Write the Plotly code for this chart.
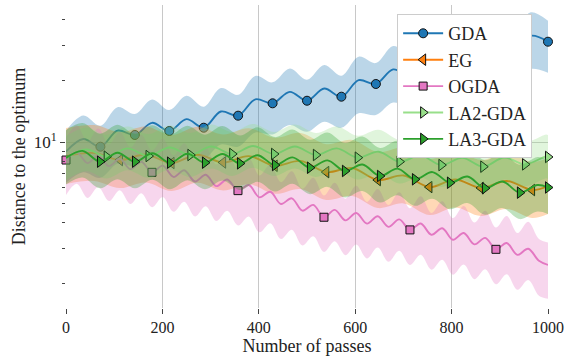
import plotly.graph_objects as go

# ---------------- data ----------------
gda_x = [0, 35.7, 71.4, 107.1, 142.9, 178.6, 214.3, 250.0, 285.7, 321.4, 357.1, 392.9, 428.6, 464.3,
         500.0, 535.7, 571.4, 607.1, 642.9, 678.6, 714.3, 750.0, 785.7, 821.4, 857.1, 892.9, 928.6,
         964.3, 1000]
gda_mean = [8.96, 10.34, 9.48, 11.38, 10.83, 12.43, 11.33, 12.96, 11.76, 14.13, 13.48, 16.23, 15.51,
            17.66, 15.97, 18.34, 16.72, 20.17, 19.31, 22.78, 21.33, 25.11, 23.47, 27.60, 25.78, 30.35,
            28.36, 33.38, 31.20]
gda_upper = [11.36, 13.49, 12.02, 14.84, 13.73, 16.21, 14.37, 16.90, 14.91, 18.44, 17.09, 21.17, 19.67,
             23.03, 20.25, 23.92, 21.20, 26.31, 24.49, 29.71, 27.05, 32.75, 29.76, 36.01, 32.69, 39.58,
             35.96, 43.55, 39.56]
gda_lower = [6.30, 7.10, 6.66, 7.81, 7.61, 8.54, 7.97, 8.90, 8.27, 9.71, 9.48, 11.14, 10.90, 12.13,
             11.23, 12.59, 11.75, 13.85, 13.57, 15.64, 15.00, 17.25, 16.50, 18.96, 18.12, 20.84, 19.94,
             22.93, 21.93]

eg_x = [0, 58.5, 112, 165.5, 219, 272.5, 326, 379.5, 433, 486.5, 540, 593.5, 647, 700.5, 754, 807.5,
        861, 914.5, 967, 1000]
eg_mean = [8.53, 8.83, 8.15, 8.68, 7.88, 8.65, 7.93, 8.52, 7.64, 8.07, 7.11, 7.45, 6.50, 6.84, 6.00,
           6.54, 5.94, 6.43, 5.80, 6.07]
eg_upper = [11.71, 12.12, 11.19, 11.92, 10.82, 11.88, 10.89, 11.70, 10.49, 11.08, 9.76, 10.23, 8.92,
            9.39, 8.24, 8.98, 8.16, 8.83, 7.96, 8.33]
eg_lower = [6.21, 6.43, 5.93, 6.32, 5.74, 6.30, 5.77, 6.20, 5.56, 5.87, 5.18, 5.42, 4.73, 4.98, 4.37,
            4.76, 4.32, 4.68, 4.22, 4.42]

ogda_x = [0, 22.3, 44.6, 66.9, 89.2, 111.5, 133.8, 156.1, 178.4, 200.7, 223.0, 245.3, 267.6, 289.9,
          312.2, 334.5, 356.8, 379.1, 401.4, 423.7, 446.0, 468.3, 490.6, 512.9, 535.2, 557.5, 579.8,
          602.1, 624.4, 646.7, 669.0, 691.3, 713.6, 735.9, 758.2, 780.5, 802.8, 825.1, 847.4, 869.7,
          892.0, 914.3, 936.6, 958.9, 981.2, 1000]
ogda_mean = [8.15, 8.88, 7.87, 8.57, 7.61, 8.27, 7.35, 7.99, 7.09, 7.65, 6.73, 7.26, 6.39, 6.90, 6.06,
             6.54, 5.76, 6.14, 5.34, 5.69, 4.95, 5.28, 4.59, 4.90, 4.26, 4.63, 4.11, 4.47, 3.96, 4.31,
             3.82, 4.16, 3.69, 3.97, 3.49, 3.76, 3.30, 3.56, 3.13, 3.37, 2.96, 3.18, 2.78, 2.98, 2.60,
             2.48]
ogda_upper = [10.43, 12.08, 10.07, 11.66, 9.74, 11.25, 9.41, 10.87, 9.08, 10.40, 8.61, 9.87, 8.18, 9.38,
              7.76, 8.89, 7.37, 8.35, 6.84, 7.74, 6.34, 7.18, 5.88, 6.66, 5.45, 6.30, 5.26, 6.08, 5.07,
              5.86, 4.89, 5.66, 4.72, 5.40, 4.47, 5.11, 4.22, 4.84, 4.01, 4.58, 3.79, 4.32, 3.56, 4.05,
              3.33, 3.20]
ogda_lower = [5.48, 6.22, 5.30, 6.00, 5.12, 5.79, 4.95, 5.59, 4.77, 5.36, 4.53, 5.08, 4.30, 4.83, 4.08,
              4.58, 3.88, 4.30, 3.59, 3.98, 3.33, 3.70, 3.09, 3.43, 2.87, 3.24, 2.77, 3.13, 2.67, 3.02,
              2.57, 2.91, 2.48, 2.78, 2.35, 2.63, 2.22, 2.49, 2.11, 2.36, 1.99, 2.23, 1.87, 2.09, 1.75,
              1.69]

la2_x = [0, 42.2, 84.4, 127.8, 171.2, 214.6, 258.0, 301.4, 344.8, 388.2, 431.6, 475.0, 518.4, 561.8,
         605.2, 648.6, 692.0, 735.4, 778.8, 822.2, 865.6, 909.0, 952.4, 995.8, 1000]
la2_mean = [8.34, 9.20, 8.47, 9.30, 8.53, 9.40, 8.63, 9.50, 8.73, 9.56, 8.73, 9.50, 8.63, 9.30, 8.37,
            8.96, 8.00, 8.59, 7.70, 8.35, 7.56, 8.39, 7.76, 8.49, 8.44]
la2_upper = [10.70, 11.80, 10.87, 11.93, 10.94, 12.06, 11.07, 12.19, 11.20, 12.27, 11.20, 12.19, 11.07,
             11.93, 10.74, 11.50, 10.26, 11.02, 9.88, 10.71, 9.70, 10.76, 9.96, 10.89, 10.83]
la2_lower = [6.51, 7.18, 6.61, 7.25, 6.65, 7.33, 6.73, 7.41, 6.81, 7.46, 6.81, 7.41, 6.73, 7.25, 6.53,
             6.99, 6.24, 6.70, 6.01, 6.51, 5.90, 6.54, 6.05, 6.62, 6.58]

la3_x = [0, 34.2, 70.5, 106.8, 143.1, 179.4, 215.7, 252.0, 288.3, 324.6, 360.9, 397.2, 433.5, 469.8,
         506.1, 542.4, 578.7, 615.0, 651.3, 687.6, 723.9, 760.2, 796.5, 832.8, 869.1, 905.4, 941.7,
         978.0, 1000]
la3_mean = [8.34, 9.04, 8.00, 8.86, 8.00, 8.81, 7.91, 8.76, 7.91, 8.73, 7.85, 8.61, 7.70, 8.40, 7.47,
            8.12, 7.20, 7.75, 6.80, 7.39, 6.55, 7.11, 6.30, 6.76, 5.92, 6.39, 5.63, 6.14, 5.97]
la3_upper = [11.45, 12.41, 10.98, 12.16, 10.98, 12.10, 10.86, 12.03, 10.86, 11.99, 10.78, 11.82, 10.57,
             11.53, 10.26, 11.15, 9.89, 10.64, 9.34, 10.15, 8.99, 9.76, 8.65, 9.28, 8.13, 8.77, 7.73,
             8.43, 8.20]
la3_lower = [6.17, 6.69, 5.92, 6.56, 5.92, 6.52, 5.85, 6.48, 5.85, 6.46, 5.81, 6.37, 5.70, 6.22, 5.53,
             6.01, 5.33, 5.74, 5.03, 5.47, 4.85, 5.26, 4.66, 5.00, 4.38, 4.73, 4.17, 4.54, 4.42]

x_ticks = [0, 200, 400, 600, 800, 1000]
y_minor = [2, 3, 4, 5, 6, 7, 8, 9, 20, 30, 40]

# ---------------- figure ----------------
FONT = "Liberation Serif"
series = [
    ("GDA", gda_x, gda_mean, gda_upper, gda_lower, "#1f77b4", "circle", 9, 2, 2),
    ("EG", eg_x, eg_mean, eg_upper, eg_lower, "#ff7f0e", "triangle-left", 10, 2, 2),
    ("OGDA", ogda_x, ogda_mean, ogda_upper, ogda_lower, "#e377c2", "square", 8, 0, 8),
    ("LA2-GDA", la2_x, la2_mean, la2_upper, la2_lower, "#98df8a", "triangle-right", 10, 2, 2),
    ("LA3-GDA", la3_x, la3_mean, la3_upper, la3_lower, "#2ca02c", "triangle-right", 10, 2, 2),
]


def rgba(hexcol, a):
    h = hexcol.lstrip("#")
    return "rgba(%d,%d,%d,%s)" % (int(h[0:2], 16), int(h[2:4], 16), int(h[4:6], 16), a)


fig = go.Figure()
for name, xs, m, up, lo, col, sym, ms, start, step in series:
    fig.add_trace(go.Scatter(x=xs, y=lo, mode="lines", line=dict(width=0, shape="spline"),
                             showlegend=False, hoverinfo="skip"))
    fig.add_trace(go.Scatter(x=xs, y=up, mode="lines", line=dict(width=0, shape="spline"),
                             fill="tonexty", fillcolor=rgba(col, 0.3),
                             showlegend=False, hoverinfo="skip"))
    fig.add_trace(go.Scatter(x=xs, y=m, mode="lines", line=dict(color=col, width=1.9, shape="spline"),
                             showlegend=False))
    fig.add_trace(go.Scatter(x=xs[start::step], y=m[start::step], mode="markers",
                             marker=dict(symbol=sym, size=ms, color=col,
                                         line=dict(color="#111111", width=1)),
                             cliponaxis=False, showlegend=False))

for name, xs, m, up, lo, col, sym, ms, start, step in series:
    fig.add_trace(go.Scatter(x=[None], y=[None], mode="lines+markers", name=name,
                             line=dict(color=col, width=1.9),
                             marker=dict(symbol=sym, size=ms, color=col,
                                         line=dict(color="#111111", width=1))))

fig.update_layout(
    width=566, height=358,
    margin=dict(l=66, r=18, t=5, b=50, autoexpand=False),
    paper_bgcolor="white", plot_bgcolor="white",
    font=dict(family=FONT, size=17, color="#222222"),
    legend=dict(x=0.687, y=0.97, xanchor="left", yanchor="top", traceorder="normal",
                bgcolor="white", bordercolor="#cccccc", borderwidth=1,
                font=dict(family=FONT, size=18, color="#222222"),
                itemwidth=40),
    xaxis=dict(range=[0, 1000], tickvals=x_ticks, showgrid=True, gridcolor="#c8c8c8", gridwidth=1,
               ticks="outside", ticklen=5, tickcolor="#444444", showline=False, zeroline=False,
               automargin=False,
               title=dict(text="Number of passes", font=dict(size=18), standoff=2),
               tickfont=dict(size=16)),
    yaxis=dict(type="log", range=[0.1823, 1.6749], tickvals=[10], ticktext=["10<sup>1</sup>"],
               showgrid=True, gridcolor="#c8c8c8", gridwidth=1, ticks="outside", ticklen=5,
               tickcolor="#444444", showline=False, zeroline=False, automargin=False,
               minor=dict(tickvals=y_minor, ticks="outside", ticklen=3, tickcolor="#444444",
                          showgrid=False),
               title=dict(text="Distance to the optimum", font=dict(size=18), standoff=3),
               tickfont=dict(size=17)),
)

fig.write_html("out.html", config={"displayModeBar": False},
               post_script="document.body.style.margin='0px';document.body.style.overflow='hidden';")
